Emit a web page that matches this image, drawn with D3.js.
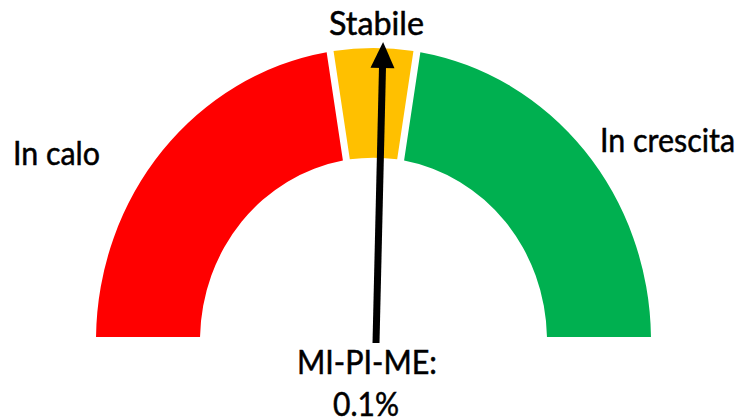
<!DOCTYPE html>
<html lang="it">
<head>
<meta charset="utf-8">
<script src="https://cdn.jsdelivr.net/npm/d3@7/dist/d3.min.js"></script>
<style>
  body { margin: 0; background: #fff; }
  svg text { font-family: Lato, "Open Sans", sans-serif; font-size: 32px; fill: #000; stroke: #000; stroke-width: 0.5px; }
</style>
</head>
<body>
<svg id="chart" width="740" height="419"></svg>
<script>
// gauge bands, as shares of the half circle
const bandNames = ["In calo", "Stabile", "In crescita"];
const bandValues = [45, 10, 45];
const bandColors = ["#ff0000", "#ffc000", "#00b050"];

// needle reading, on the same 0-100 span as the bands
const needleValue = 50.75;
const needleLabel = ["MI-PI-ME:", "0.1%"];

const width = 740, height = 419;
const cx = 373.5, cy = 340.7;
const rOuter = 277.5, rInner = 173.5, yStretch = 1.055;

const svg = d3.select("#chart");

const angle = d3.scaleLinear()
    .domain([0, d3.sum(bandValues)])
    .range([-Math.PI / 2, Math.PI / 2]);

const pie = d3.pie().sort(null)
    .startAngle(angle(0))
    .endAngle(angle(d3.sum(bandValues)));

const arc = d3.arc()
    .innerRadius(rInner)
    .outerRadius(rOuter)
    .padAngle(0.07)
    .padRadius(100);

const g = svg.append("g")
    .attr("transform", `translate(${cx},${cy}) scale(1,${yStretch})`);

g.selectAll("path.band")
    .data(pie(bandValues))
    .join("path")
    .attr("class", "band")
    .attr("d", arc)
    .attr("fill", (d, i) => bandColors[i]);

// needle with arrow head
const a = angle(needleValue);
const pivot = [cx + 2.5, cy + 2.3];
const needleLen = 301, headLen = 26, headHalf = 12;
const dir = [Math.sin(a), -Math.cos(a)];
const perp = [Math.cos(a), Math.sin(a)];
const tip = [pivot[0] + needleLen * dir[0], pivot[1] + needleLen * dir[1]];
const headBase = [tip[0] - headLen * dir[0], tip[1] - headLen * dir[1]];

svg.append("line")
    .attr("x1", pivot[0]).attr("y1", pivot[1])
    .attr("x2", headBase[0] + 2 * dir[0]).attr("y2", headBase[1] + 2 * dir[1])
    .attr("stroke", "#000")
    .attr("stroke-width", 7);

svg.append("path")
    .attr("d", d3.line()([
        tip,
        [headBase[0] + headHalf * perp[0], headBase[1] + headHalf * perp[1]],
        [headBase[0] - headHalf * perp[0], headBase[1] - headHalf * perp[1]]
    ]) + "Z")
    .attr("fill", "#000");

// labels
const bandLabelPos = [
    { x: 13, y: 165, anchor: "start", len: 87 },
    { x: 376.5, y: 35, anchor: "middle", len: 95 },
    { x: 600, y: 152, anchor: "start", len: 135 }
];
svg.selectAll("text.band")
    .data(bandNames)
    .join("text")
    .attr("class", "band")
    .attr("x", (d, i) => bandLabelPos[i].x)
    .attr("y", (d, i) => bandLabelPos[i].y)
    .attr("text-anchor", (d, i) => bandLabelPos[i].anchor)
    .attr("textLength", (d, i) => bandLabelPos[i].len)
    .attr("lengthAdjust", "spacingAndGlyphs")
    .text(d => d);

const needleLabelPos = [
    { x: 367, y: 374, len: 140 },
    { x: 366, y: 416, len: 66 }
];
svg.selectAll("text.reading")
    .data(needleLabel)
    .join("text")
    .attr("class", "reading")
    .attr("x", (d, i) => needleLabelPos[i].x)
    .attr("y", (d, i) => needleLabelPos[i].y)
    .attr("text-anchor", "middle")
    .attr("textLength", (d, i) => needleLabelPos[i].len)
    .attr("lengthAdjust", "spacingAndGlyphs")
    .text(d => d);
</script>
</body>
</html>
